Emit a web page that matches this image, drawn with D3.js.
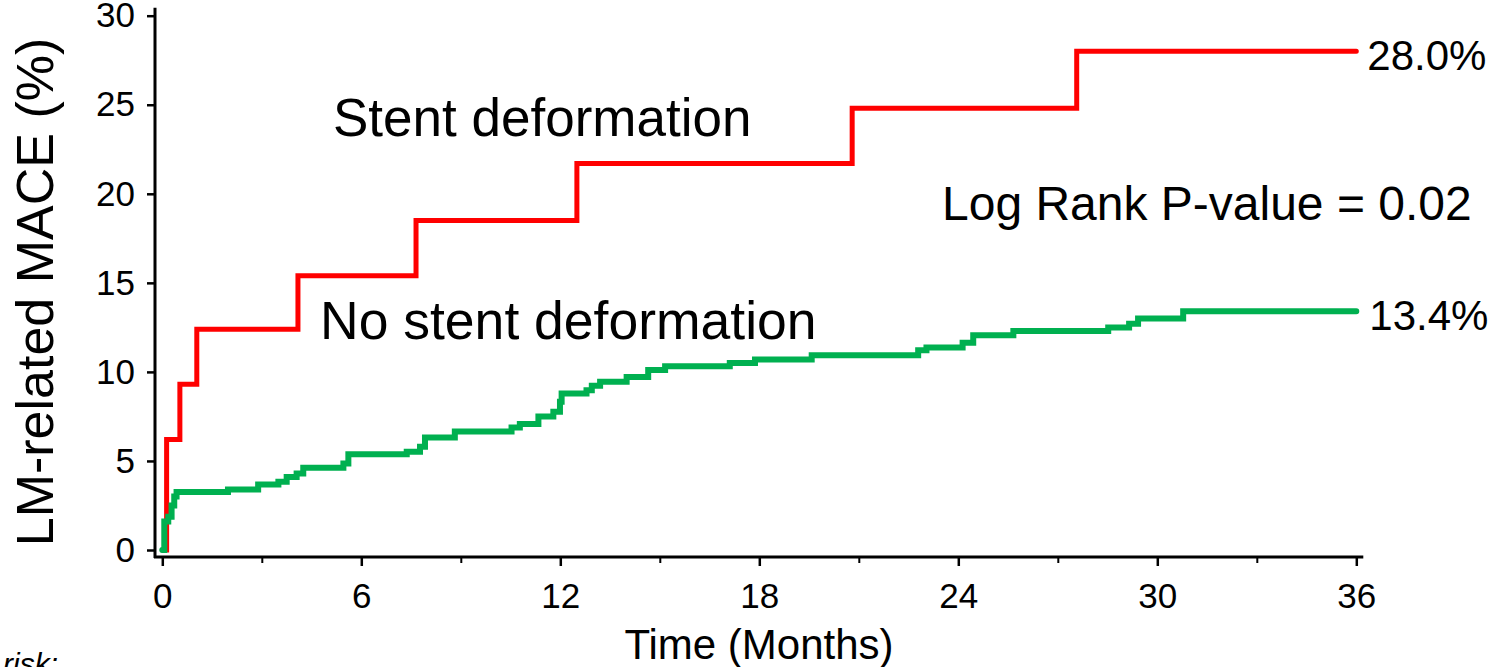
<!DOCTYPE html>
<html>
<head>
<meta charset="utf-8">
<script src="https://cdn.jsdelivr.net/npm/d3@7"></script>
<style>
  body { margin: 0; background: #fff; }
  text { font-family: "Liberation Sans", Arial, sans-serif; fill: #000; }
</style>
</head>
<body>
<div id="chart"></div>
<script>
// step times (months) and cumulative event rate (%)
var deformTimes = [0, 0.13, 0.53, 1.04, 4.09, 7.65, 12.5, 20.8, 27.57, 36]
var deformRates = [0, 6.2, 9.3, 12.4, 15.4, 18.5, 21.7, 24.8, 28.0, 28.0]

var noDeformTimes = [0, 0.06, 0.18, 0.28, 0.36, 0.43, 1.98, 2.89, 3.5, 3.75, 4.05, 4.25, 5.46, 5.61,
  7.37, 7.77, 7.92, 8.82, 10.53, 10.78, 11.34, 11.79, 11.99, 12.04, 12.79, 12.95, 13.2, 14.0,
  14.65, 15.16, 17.11, 17.87, 19.58, 22.79, 23.04, 24.13, 24.45, 25.66, 28.52, 29.15, 29.42,
  30.78, 36]
var noDeformRates = [0, 1.6, 1.87, 2.5, 3.0, 3.25, 3.4, 3.68, 3.83, 4.1, 4.3, 4.62, 4.86, 5.38,
  5.51, 5.8, 6.32, 6.65, 6.88, 7.07, 7.5, 7.76, 8.32, 8.79, 8.97, 9.22, 9.44, 9.72,
  10.1, 10.32, 10.5, 10.7, 10.94, 11.22, 11.37, 11.63, 12.06, 12.3, 12.49, 12.71, 13.0,
  13.4, 13.4]

var xMajorTicks = [0, 6, 12, 18, 24, 30, 36]
var xMinorTicks = [3, 9, 15, 21, 27, 33]
var yTicks = [0, 5, 10, 15, 20, 25, 30]

var width = 1506, height = 667;

var svg = d3.select("#chart").append("svg")
  .attr("width", width)
  .attr("height", height);

var x = d3.scaleLinear().domain([0, 36]).range([162.3, 1356.3]);
var y = d3.scaleLinear().domain([0, 30]).range([550, 15.7]);

var axisX = 155, axisY = 557;

// axis lines (offset from the data origin)
svg.append("line")
  .attr("x1", axisX).attr("x2", axisX)
  .attr("y1", y(30) - 8).attr("y2", axisY + 1)
  .attr("stroke", "#000").attr("stroke-width", 3);
svg.append("line")
  .attr("x1", axisX - 1).attr("x2", x(36) + 7)
  .attr("y1", axisY).attr("y2", axisY)
  .attr("stroke", "#000").attr("stroke-width", 3);

var gy = svg.append("g")
  .attr("transform", "translate(" + axisX + ",0)")
  .call(d3.axisLeft(y).tickValues(yTicks).tickSize(8).tickPadding(12));
gy.select(".domain").remove();
gy.selectAll("line").attr("stroke-width", 2.5);
gy.selectAll("text").style("font-size", "35px").attr("font-family", null);

var gxMinor = svg.append("g")
  .attr("transform", "translate(0," + axisY + ")")
  .call(d3.axisBottom(x).tickValues(xMinorTicks).tickSize(6).tickFormat(""));
gxMinor.select(".domain").remove();
gxMinor.selectAll("line").attr("stroke-width", 2);

var gx = svg.append("g")
  .attr("transform", "translate(0," + axisY + ")")
  .call(d3.axisBottom(x).tickValues(xMajorTicks).tickSize(9).tickPadding(17));
gx.select(".domain").remove();
gx.selectAll("line").attr("stroke-width", 2.5);
gx.selectAll("text").style("font-size", "35px").attr("font-family", null);

// curves
var line = d3.line()
  .x(function(d) { return x(d[0]); })
  .y(function(d) { return y(d[1]); })
  .curve(d3.curveStepAfter);

var noDeform = d3.zip(noDeformTimes, noDeformRates);
var deform = d3.zip(deformTimes, deformRates);

svg.append("path")
  .datum(deform)
  .attr("d", line)
  .attr("fill", "none")
  .attr("stroke", "#ff0000")
  .attr("stroke-width", 5)
  .attr("stroke-linecap", "round");

svg.append("path")
  .datum(noDeform)
  .attr("d", line)
  .attr("fill", "none")
  .attr("stroke", "#00b050")
  .attr("stroke-width", 6)
  .attr("stroke-linecap", "round");

// end labels
svg.append("text")
  .attr("x", x(36) + 11).attr("y", y(28.0) + 19)
  .style("font-size", "42px")
  .text("28.0%");
svg.append("text")
  .attr("x", x(36) + 13).attr("y", y(13.4) + 19)
  .style("font-size", "42px")
  .text("13.4%");

// annotations
svg.append("text")
  .attr("x", 333).attr("y", 136)
  .style("font-size", "53px")
  .text("Stent deformation");
svg.append("text")
  .attr("x", 320).attr("y", 339)
  .style("font-size", "53.5px")
  .text("No stent deformation");
svg.append("text")
  .attr("x", 942).attr("y", 220)
  .style("font-size", "48px")
  .text("Log Rank P-value = 0.02");

// axis titles
svg.append("text")
  .attr("transform", "translate(53,292) rotate(-90)")
  .style("text-anchor", "middle")
  .style("font-size", "52px")
  .text("LM-related MACE (%)");
svg.append("text")
  .attr("x", 759).attr("y", 659)
  .style("text-anchor", "middle")
  .style("font-size", "42px")
  .text("Time (Months)");

svg.append("text")
  .attr("x", 58).attr("y", 674)
  .style("text-anchor", "end")
  .style("font-size", "30px")
  .style("font-style", "italic")
  .text("Number at risk:");
</script>
</body>
</html>
